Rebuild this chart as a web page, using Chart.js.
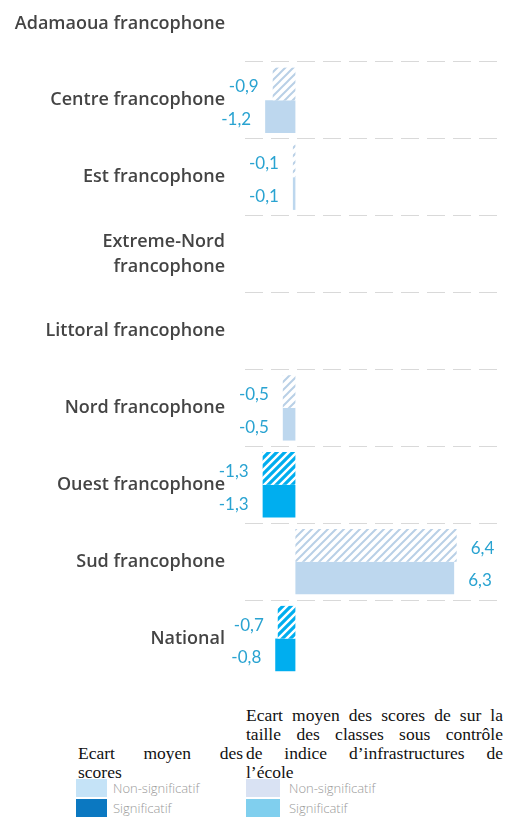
<!DOCTYPE html>
<html>
<head>
<meta charset="utf-8">
<script src="https://cdn.jsdelivr.net/npm/chart.js@4"></script>
<style>
    body { margin: 0; width: 505px; height: 821px; background: #fff; position: relative; overflow: hidden; }
    #wrap { position: absolute; left: 0; top: -15px; width: 505px; height: 692px; }
    .head { position: absolute; font: 17.5px "Liberation Serif", serif; line-height: 19px; color: #111; }
    .head div { text-align: justify; text-align-last: justify; white-space: nowrap; }
    .head div.last { text-align-last: left; }
    .sw { position: absolute; }
    .lt { position: absolute; font: 300 13px "Open Sans", sans-serif; color: #9a9a9a; line-height: 14px; }
</style>
</head>
<body>
<div id="wrap"><canvas id="chart" width="505" height="692"></canvas></div>

<div class="head" style="left:78px; width:165px; top:744px;">
    <div>Ecart moyen des</div>
    <div class="last">scores</div>
</div>
<div class="head" style="left:246px; width:257px; top:706px;">
    <div>Ecart moyen des scores de sur la</div>
    <div>taille des classes sous contrôle</div>
    <div>de indice d’infrastructures de</div>
    <div class="last">l’école</div>
</div>

<div class="sw" style="left:76px; top:779px; width:31px; height:18px; background:#c5e3f7;"></div>
<div class="sw" style="left:76px; top:799px; width:31px; height:18px; background:#0b78c1;"></div>
<div class="lt" style="left:113px; top:781px;">Non-significatif</div>
<div class="lt" style="left:113px; top:801px;">Significatif</div>

<div class="sw" style="left:246px; top:779px; width:34px; height:18px; background:#d9e2f3;"></div>
<div class="sw" style="left:246px; top:799px; width:34px; height:18px; background:#80cfee;"></div>
<div class="lt" style="left:289px; top:781px;">Non-significatif</div>
<div class="lt" style="left:289px; top:801px;">Significatif</div>

<script>
const categories = [
    'Adamaoua francophone',
    'Centre francophone',
    'Est francophone',
    ['Extreme-Nord', 'francophone'],
    'Littoral francophone',
    'Nord francophone',
    'Ouest francophone',
    'Sud francophone',
    'National'
];
// Ecart moyen des scores
const ecartScores = [null, -1.2, -0.1, null, null, -0.5, -1.3, 6.3, -0.8];
const ecartScoresSig = [false, false, false, false, false, false, true, false, true];
// Ecart moyen sous contrôle de l'indice d'infrastructures
const ecartControle = [null, -0.9, -0.1, null, null, -0.5, -1.3, 6.4, -0.7];
const ecartControleSig = [false, false, false, false, false, false, true, false, true];

const xMin = -2;
const xMax = 8;

function hatch(color, lineWidth) {
    const size = 8;
    const c = document.createElement('canvas');
    c.width = size;
    c.height = size;
    const g = c.getContext('2d');
    g.fillStyle = '#fff';
    g.fillRect(0, 0, size, size);
    g.strokeStyle = color;
    g.lineWidth = lineWidth;
    g.beginPath();
    g.moveTo(0, size); g.lineTo(size, 0);
    g.moveTo(-size / 2, size / 2); g.lineTo(size / 2, -size / 2);
    g.moveTo(size / 2, size * 1.5); g.lineTo(size * 1.5, size / 2);
    g.stroke();
    return g.createPattern(c, 'repeat');
}

const hatchNonSig = hatch('#b9d0e6', 2);
const hatchSig = hatch('#00aeef', 3.2);

const valueLabels = {
    id: 'valueLabels',
    afterDatasetsDraw(chart) {
        const ctx = chart.ctx;
        ctx.save();
        ctx.font = '17px Lato, sans-serif';
        ctx.fillStyle = '#29a3d1';
        ctx.textBaseline = 'middle';
        chart.data.datasets.forEach((ds, i) => {
            chart.getDatasetMeta(i).data.forEach((bar, j) => {
                const v = ds.data[j];
                if (v === null) return;
                const txt = v.toFixed(1).replace('.', ',');
                if (v < 0) {
                    ctx.textAlign = 'right';
                    ctx.fillText(txt, bar.x - 14, bar.y + 3);
                } else {
                    ctx.textAlign = 'left';
                    ctx.fillText(txt, bar.x + 14, bar.y + 3);
                }
            });
        });
        ctx.restore();
    }
};

new Chart(document.getElementById('chart'), {
    type: 'bar',
    data: {
        labels: categories,
        datasets: [
            {
                label: 'Ecart moyen des scores sous contrôle',
                data: ecartControle,
                backgroundColor: ecartControleSig.map(s => s ? hatchSig : hatchNonSig),
                categoryPercentage: 0.85,
                barPercentage: 1
            },
            {
                label: 'Ecart moyen des scores',
                data: ecartScores,
                backgroundColor: ecartScoresSig.map(s => s ? '#00aeef' : '#bdd7ee'),
                categoryPercentage: 0.85,
                barPercentage: 1
            }
        ]
    },
    options: {
        indexAxis: 'y',
        responsive: false,
        animation: false,
        layout: { padding: { left: 0, right: 8, top: 0, bottom: 0 } },
        plugins: { legend: { display: false }, tooltip: { enabled: false } },
        scales: {
            x: { display: false, min: xMin, max: xMax },
            y: {
                afterFit: scale => {
                    scale.width = 245;
                    scale.paddingTop = 0;
                    scale.paddingBottom = 0;
                },
                grid: { offset: true, drawTicks: false, color: '#d9d9d9', lineWidth: 1 },
                border: { display: false, dash: [18, 8] },
                ticks: {
                    padding: 20,
                    color: '#444',
                    font: { family: 'Open Sans', weight: '600', size: 18, lineHeight: '25px' }
                }
            }
        }
    },
    plugins: [valueLabels]
});
</script>
</body>
</html>
